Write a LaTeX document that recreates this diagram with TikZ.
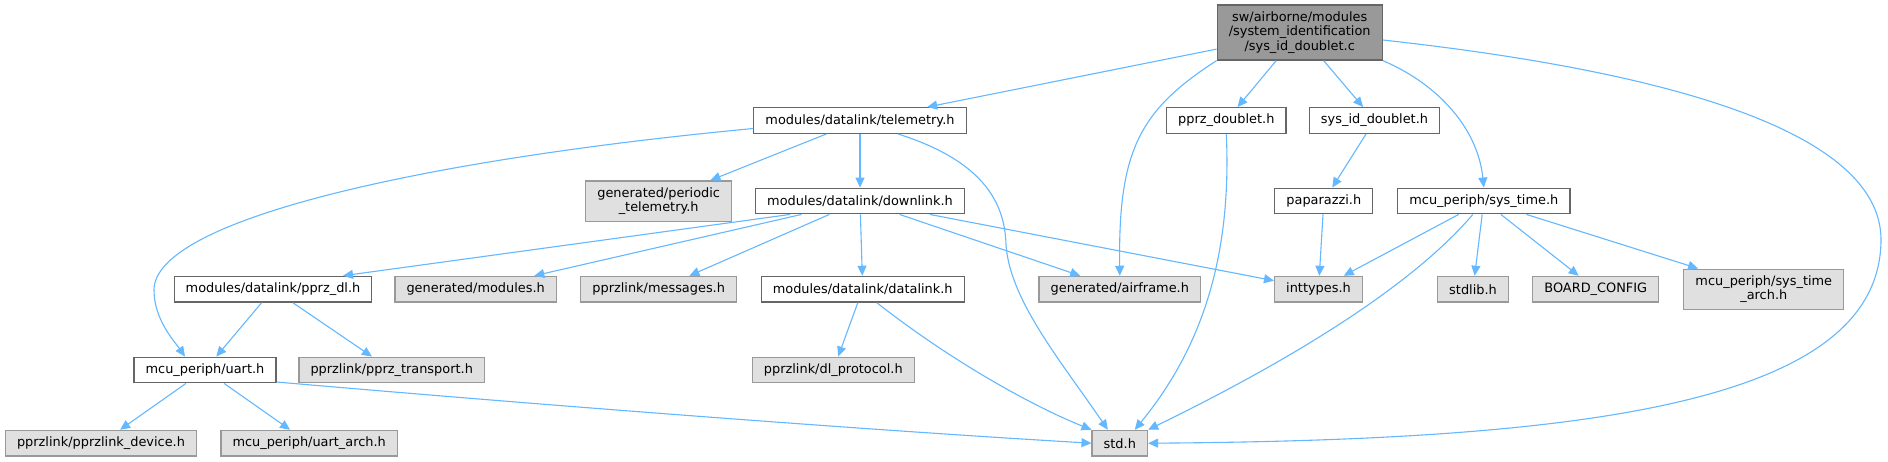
\documentclass[tikz,border=0pt]{standalone}
\usepackage{fontspec}
\newfontfamily\dxfont{DejaVu Sans}
\usetikzlibrary{
    arrows.meta,
    calc
}
\definecolor{dxEdge}{HTML}{63B8FF}
\definecolor{dxLine}{HTML}{666666}
\definecolor{dxExtLine}{HTML}{999999}
\definecolor{dxExtFill}{HTML}{E0E0E0}
\definecolor{dxMainFill}{HTML}{999999}
\tikzset{
    dxFile/.style={
        draw=dxLine,
        fill=white,
        line width=0.6pt,
        inner xsep=5.8pt,
        inner ysep=0pt,
        minimum height=12.85pt,
        align=center
    },
    dxExtern/.style={
        dxFile,
        draw=dxExtLine,
        fill=dxExtFill
    },
    dxMain/.style={
        dxFile,
        fill=dxMainFill,
        minimum height=27.5pt
    },
    dxTwo/.style={minimum height=20.1pt},
    dxArrow/.style={-{Triangle[length=5pt,width=4.5pt]},line width=0.55pt,draw=dxEdge}
}

\begin{document}
\begin{tikzpicture}[font=\dxfont\fontsize{6.45}{7.3}\selectfont,x=0.5pt,y=-0.5pt]
        \useasboundingbox[fill=white] (0,0) rectangle (1888,461);

        % top rows
        \node[dxMain] (root) at (1299.7,32.5)
            {sw/airborne/modules\\/system\_identification\\/sys\_id\_doublet.c};
        \node[dxFile] (tele) at (860,120.5) {modules/datalink/telemetry.h};
        \node[dxFile] (pdoub) at (1226.3,120.5) {pprz\_doublet.h};
        \node[dxFile] (sysidh) at (1374.5,120.5) {sys\_id\_doublet.h};

        \node[dxExtern,dxTwo] (periodic) at (658.7,201) {generated/periodic\\\_telemetry.h};
        \node[dxFile] (downlink) at (860,201) {modules/datalink/downlink.h};
        \node[dxFile] (paparazzi) at (1323.8,201) {paparazzi.h};
        \node[dxFile] (systime) at (1483.8,201) {mcu\_periph/sys\_time.h};

        % third row
        \node[dxFile] (pprzdl) at (273,289.2) {modules/datalink/pprz\_dl.h};
        \node[dxExtern] (modules) at (475.7,289.2) {generated/modules.h};
        \node[dxExtern] (messages) at (658.7,289.2) {pprzlink/messages.h};
        \node[dxFile] (datalink) at (862.7,289.2) {modules/datalink/datalink.h};
        \node[dxExtern] (airframe) at (1119.8,289.2) {generated/airframe.h};
        \node[dxExtern] (inttypes) at (1318.5,289.2) {inttypes.h};
        \node[dxExtern] (stdlib) at (1473,289.2) {stdlib.h};
        \node[dxExtern] (boardcfg) at (1595.8,289.2) {BOARD\_CONFIG};
        \node[dxExtern,dxTwo] (stimearch) at (1763.8,289.2) {mcu\_periph/sys\_time\\\_arch.h};

        % bottom rows
        \node[dxFile] (uart) at (205,370) {mcu\_periph/uart.h};
        \node[dxExtern] (transport) at (391.7,370) {pprzlink/pprz\_transport.h};
        \node[dxExtern] (dlproto) at (833.3,370) {pprzlink/dl\_protocol.h};
        \node[dxExtern] (device) at (101,443.2) {pprzlink/pprzlink\_device.h};
        \node[dxExtern] (uartarch) at (309.2,443.2) {mcu\_periph/uart\_arch.h};
        \node[dxExtern] (std) at (1119.8,443.2) {std.h};

        % arrows from the source file
        \draw[dxArrow] (root) -- (tele);
        \draw[dxArrow] (root) -- (pdoub);
        \draw[dxArrow] (root) -- (sysidh);
        \draw[dxArrow] (root.south west) .. controls (1140,110) and (1118,150) .. (airframe.north);
        \draw[dxArrow] (root.south east) .. controls (1440,85) and (1478,130) .. (systime.north);
        \draw[dxArrow] ($(root.east)+(0,7.5)$) .. controls (1700,75) and (1881,140) .. (1881,240)
            .. controls (1880,400) and (1600,440) .. (std.east);

        % telemetry.h
        \draw[dxArrow] ($(tele.west)+(0,8)$) .. controls (420,160) and (154,220) .. (154,290)
            .. controls (154,320) and (175,342) .. ($(uart.north)+(-20,0)$);
        \draw[dxArrow] (tele) -- (periodic);
        \draw[dxArrow] (tele) -- (downlink);
        \draw[dxArrow] ($(tele.south)+(38,0)$) .. controls (980,160) and (1005,200) .. (1006,245)
            .. controls (1010,300) and (1060,360) .. ($(std.north)+(-12,0)$);

        % downlink.h
        \draw[dxArrow] ($(downlink.south)+(-70,0)$) -- ($(pprzdl.north)+(70,0)$);
        \draw[dxArrow] (downlink) -- (modules);
        \draw[dxArrow] (downlink) -- (messages);
        \draw[dxArrow] (downlink) -- (datalink);
        \draw[dxArrow] (downlink) -- (airframe);
        \draw[dxArrow] (downlink) -- (inttypes);

        % other headers
        \draw[dxArrow] (pdoub.south) .. controls (1232,260) and (1200,350) .. ($(std.north)+(15,0)$);
        \draw[dxArrow] (sysidh) -- (paparazzi);
        \draw[dxArrow] (paparazzi) -- (inttypes);
        \draw[dxArrow] (systime) -- (inttypes);
        \draw[dxArrow] ($(systime.south)+(-11,0)$) .. controls (1400,300) and (1250,380) .. (std.north east);
        \draw[dxArrow] (systime) -- (stdlib);
        \draw[dxArrow] (systime) -- (boardcfg);
        \draw[dxArrow] (systime) -- (stimearch);
        \draw[dxArrow] (pprzdl) -- (uart);
        \draw[dxArrow] (pprzdl) -- (transport);
        \draw[dxArrow] (datalink) -- (dlproto);
        \draw[dxArrow] ($(datalink.south)+(14,0)$) .. controls (950,360) and (1030,405) .. (std.north west);
        \draw[dxArrow] (uart) -- (device);
        \draw[dxArrow] (uart) -- (uartarch);
        \draw[dxArrow] ($(uart.east)+(0,12)$) .. controls (600,410) and (900,432) .. (std.west);
    \end{tikzpicture}
\end{document}
